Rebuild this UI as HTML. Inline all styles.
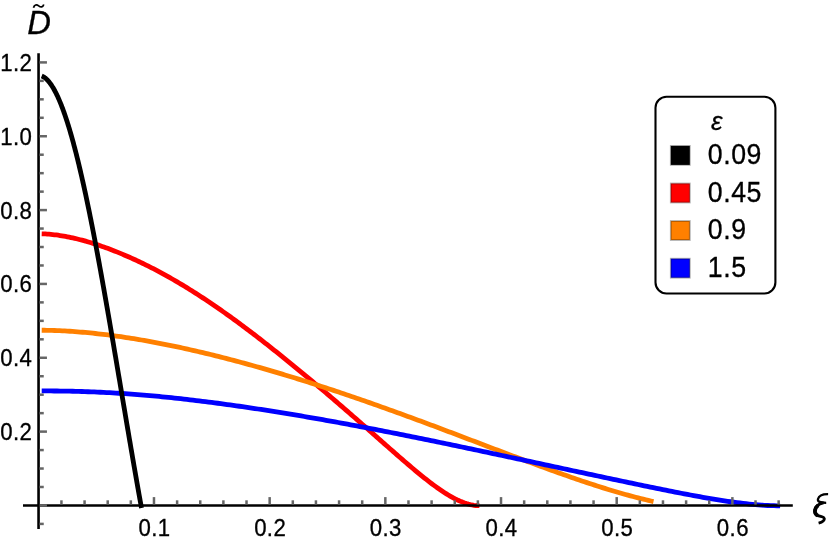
<!DOCTYPE html>
<html>
<head>
<meta charset="utf-8">
<title>Plot</title>
<style>
html,body{margin:0;padding:0;background:#ffffff;}
body{width:830px;height:547px;overflow:hidden;font-family:"Liberation Sans",sans-serif;}
svg{display:block;will-change:transform;}
svg text{font-family:"Liberation Sans",sans-serif;fill:#000000;stroke:#000000;stroke-width:0.3px;}
</style>
</head>
<body>
<svg width="830" height="547" viewBox="0 0 830 547">
<rect x="0" y="0" width="830" height="547" fill="#ffffff"/>
<g fill="none" stroke-width="4.8" stroke-linecap="butt" stroke-linejoin="round">
<path stroke="#ff0000" d="M41.70,233.80 L43.53,233.86 L45.36,233.95 L47.19,234.06 L49.03,234.20 L50.86,234.36 L52.69,234.55 L54.52,234.76 L56.35,234.99 L58.18,235.24 L60.01,235.51 L61.85,235.80 L63.68,236.11 L65.51,236.44 L67.34,236.78 L69.17,237.15 L71.00,237.53 L72.83,237.93 L74.66,238.35 L76.50,238.78 L78.33,239.23 L80.16,239.70 L81.99,240.18 L83.82,240.67 L85.65,241.18 L87.48,241.71 L89.32,242.25 L91.15,242.80 L92.98,243.37 L94.81,243.95 L96.64,244.54 L98.47,245.15 L100.30,245.77 L102.14,246.40 L103.97,247.04 L105.80,247.70 L107.63,248.37 L109.46,249.05 L111.29,249.74 L113.12,250.45 L114.96,251.17 L116.79,251.89 L118.62,252.63 L120.45,253.38 L122.28,254.14 L124.11,254.92 L125.94,255.70 L127.77,256.50 L129.61,257.30 L131.44,258.12 L133.27,258.95 L135.10,259.79 L136.93,260.63 L138.76,261.49 L140.59,262.36 L142.43,263.24 L144.26,264.13 L146.09,265.04 L147.92,265.95 L149.75,266.87 L151.58,267.80 L153.41,268.74 L155.25,269.70 L157.08,270.66 L158.91,271.63 L160.74,272.62 L162.57,273.61 L164.40,274.61 L166.23,275.62 L168.07,276.65 L169.90,277.68 L171.73,278.72 L173.56,279.77 L175.39,280.84 L177.22,281.91 L179.05,282.99 L180.88,284.08 L182.72,285.18 L184.55,286.29 L186.38,287.41 L188.21,288.53 L190.04,289.67 L191.87,290.82 L193.70,291.97 L195.54,293.13 L197.37,294.31 L199.20,295.49 L201.03,296.68 L202.86,297.88 L204.69,299.08 L206.52,300.30 L208.36,301.52 L210.19,302.75 L212.02,304.00 L213.85,305.24 L215.68,306.50 L217.51,307.76 L219.34,309.04 L221.18,310.32 L223.01,311.60 L224.84,312.90 L226.67,314.20 L228.50,315.51 L230.33,316.82 L232.16,318.15 L233.99,319.48 L235.83,320.81 L237.66,322.16 L239.49,323.51 L241.32,324.86 L243.15,326.23 L244.98,327.60 L246.81,328.97 L248.65,330.35 L250.48,331.74 L252.31,333.13 L254.14,334.53 L255.97,335.93 L257.80,337.34 L259.63,338.76 L261.47,340.18 L263.30,341.60 L265.13,343.03 L266.96,344.47 L268.79,345.91 L270.62,347.35 L272.45,348.80 L274.29,350.26 L276.12,351.71 L277.95,353.18 L279.78,354.64 L281.61,356.11 L283.44,357.59 L285.27,359.07 L287.11,360.55 L288.94,362.04 L290.77,363.53 L292.60,365.03 L294.43,366.52 L296.26,368.03 L298.09,369.53 L299.92,371.04 L301.76,372.56 L303.59,374.07 L305.42,375.59 L307.25,377.11 L309.08,378.64 L310.91,380.17 L312.74,381.70 L314.58,383.24 L316.41,384.78 L318.24,386.32 L320.07,387.87 L321.90,389.42 L323.73,390.97 L325.56,392.52 L327.40,394.08 L329.23,395.64 L331.06,397.21 L332.89,398.77 L334.72,400.34 L336.55,401.91 L338.38,403.49 L340.22,405.07 L342.05,406.65 L343.88,408.23 L345.71,409.82 L347.54,411.41 L349.37,413.00 L351.20,414.59 L353.03,416.19 L354.87,417.79 L356.70,419.39 L358.53,420.99 L360.36,422.60 L362.19,424.20 L364.02,425.81 L365.85,427.42 L367.69,429.03 L369.52,430.65 L371.35,432.26 L373.18,433.88 L375.01,435.50 L376.84,437.11 L378.67,438.73 L380.51,440.35 L382.34,441.97 L384.17,443.58 L386.00,445.20 L387.83,446.81 L389.66,448.43 L391.49,450.04 L393.33,451.65 L395.16,453.25 L396.99,454.86 L398.82,456.46 L400.65,458.05 L402.48,459.64 L404.31,461.22 L406.14,462.80 L407.98,464.37 L409.81,465.93 L411.64,467.49 L413.47,469.03 L415.30,470.56 L417.13,472.09 L418.96,473.60 L420.80,475.09 L422.63,476.57 L424.46,478.04 L426.29,479.49 L428.12,480.92 L429.95,482.33 L431.78,483.72 L433.62,485.08 L435.45,486.43 L437.28,487.74 L439.11,489.03 L440.94,490.29 L442.77,491.52 L444.60,492.71 L446.44,493.87 L448.27,494.99 L450.10,496.08 L451.93,497.12 L453.76,498.11 L455.59,499.06 L457.42,499.96 L459.25,500.80 L461.09,501.59 L462.92,502.32 L464.75,502.99 L466.58,503.59 L468.41,504.13 L470.24,504.59 L472.07,504.98 L473.91,505.29 L475.74,505.51 L477.57,505.65 L479.40,505.70"/>
<path stroke="#ff8000" d="M41.70,330.24 L44.26,330.26 L46.82,330.30 L49.38,330.36 L51.94,330.43 L54.50,330.51 L57.06,330.60 L59.62,330.71 L62.18,330.83 L64.74,330.96 L67.30,331.11 L69.86,331.27 L72.42,331.44 L74.98,331.62 L77.54,331.82 L80.10,332.02 L82.66,332.24 L85.22,332.47 L87.78,332.70 L90.34,332.95 L92.90,333.22 L95.46,333.49 L98.02,333.77 L100.58,334.06 L103.14,334.36 L105.70,334.67 L108.26,334.99 L110.82,335.33 L113.38,335.67 L115.94,336.02 L118.49,336.38 L121.05,336.74 L123.61,337.12 L126.17,337.51 L128.73,337.90 L131.29,338.31 L133.85,338.72 L136.41,339.14 L138.97,339.57 L141.53,340.00 L144.09,340.45 L146.65,340.90 L149.21,341.36 L151.77,341.83 L154.33,342.31 L156.89,342.79 L159.45,343.28 L162.01,343.78 L164.57,344.29 L167.13,344.80 L169.69,345.32 L172.25,345.85 L174.81,346.38 L177.37,346.92 L179.93,347.47 L182.49,348.02 L185.05,348.59 L187.61,349.15 L190.17,349.73 L192.73,350.31 L195.29,350.89 L197.85,351.49 L200.41,352.09 L202.97,352.69 L205.53,353.30 L208.09,353.92 L210.65,354.54 L213.21,355.17 L215.77,355.81 L218.33,356.45 L220.89,357.09 L223.45,357.75 L226.01,358.40 L228.57,359.07 L231.13,359.73 L233.69,360.41 L236.25,361.09 L238.81,361.77 L241.37,362.46 L243.93,363.16 L246.49,363.86 L249.05,364.56 L251.61,365.27 L254.17,365.99 L256.73,366.71 L259.29,367.43 L261.85,368.16 L264.41,368.90 L266.97,369.64 L269.53,370.38 L272.08,371.13 L274.64,371.88 L277.20,372.64 L279.76,373.40 L282.32,374.17 L284.88,374.94 L287.44,375.72 L290.00,376.50 L292.56,377.28 L295.12,378.07 L297.68,378.86 L300.24,379.66 L302.80,380.46 L305.36,381.27 L307.92,382.08 L310.48,382.89 L313.04,383.71 L315.60,384.53 L318.16,385.35 L320.72,386.18 L323.28,387.02 L325.84,387.85 L328.40,388.69 L330.96,389.54 L333.52,390.39 L336.08,391.24 L338.64,392.09 L341.20,392.95 L343.76,393.82 L346.32,394.68 L348.88,395.55 L351.44,396.42 L354.00,397.30 L356.56,398.18 L359.12,399.06 L361.68,399.95 L364.24,400.84 L366.80,401.73 L369.36,402.63 L371.92,403.53 L374.48,404.43 L377.04,405.33 L379.60,406.24 L382.16,407.15 L384.72,408.06 L387.28,408.98 L389.84,409.90 L392.40,410.82 L394.96,411.74 L397.52,412.67 L400.08,413.60 L402.64,414.53 L405.20,415.46 L407.76,416.40 L410.32,417.34 L412.88,418.28 L415.44,419.22 L418.00,420.16 L420.56,421.11 L423.12,422.06 L425.67,423.01 L428.23,423.96 L430.79,424.92 L433.35,425.87 L435.91,426.83 L438.47,427.79 L441.03,428.75 L443.59,429.71 L446.15,430.68 L448.71,431.64 L451.27,432.61 L453.83,433.57 L456.39,434.54 L458.95,435.51 L461.51,436.48 L464.07,437.45 L466.63,438.42 L469.19,439.39 L471.75,440.37 L474.31,441.34 L476.87,442.31 L479.43,443.29 L481.99,444.26 L484.55,445.23 L487.11,446.21 L489.67,447.18 L492.23,448.15 L494.79,449.12 L497.35,450.10 L499.91,451.07 L502.47,452.04 L505.03,453.01 L507.59,453.97 L510.15,454.94 L512.71,455.91 L515.27,456.87 L517.83,457.83 L520.39,458.79 L522.95,459.75 L525.51,460.71 L528.07,461.67 L530.63,462.62 L533.19,463.57 L535.75,464.52 L538.31,465.46 L540.87,466.40 L543.43,467.34 L545.99,468.27 L548.55,469.21 L551.11,470.13 L553.67,471.06 L556.23,471.98 L558.79,472.89 L561.35,473.80 L563.91,474.71 L566.47,475.61 L569.03,476.51 L571.59,477.40 L574.15,478.29 L576.71,479.17 L579.26,480.04 L581.82,480.91 L584.38,481.77 L586.94,482.62 L589.50,483.47 L592.06,484.31 L594.62,485.14 L597.18,485.97 L599.74,486.79 L602.30,487.60 L604.86,488.40 L607.42,489.19 L609.98,489.97 L612.54,490.74 L615.10,491.51 L617.66,492.26 L620.22,493.00 L622.78,493.74 L625.34,494.46 L627.90,495.17 L630.46,495.86 L633.02,496.55 L635.58,497.22 L638.14,497.89 L640.70,498.53 L643.26,499.17 L645.82,499.79 L648.38,500.39 L650.94,500.99 L653.50,501.56"/>
<path stroke="#0000ff" d="M41.70,390.92 L44.79,390.92 L47.88,390.94 L50.97,390.96 L54.06,390.98 L57.15,391.01 L60.24,391.05 L63.33,391.09 L66.42,391.15 L69.51,391.21 L72.60,391.27 L75.68,391.35 L78.77,391.43 L81.86,391.52 L84.95,391.62 L88.04,391.73 L91.13,391.85 L94.22,391.97 L97.31,392.10 L100.40,392.24 L103.49,392.39 L106.58,392.55 L109.67,392.72 L112.76,392.89 L115.85,393.08 L118.94,393.27 L122.03,393.47 L125.12,393.68 L128.21,393.89 L131.30,394.12 L134.39,394.35 L137.48,394.59 L140.57,394.84 L143.65,395.09 L146.74,395.35 L149.83,395.62 L152.92,395.90 L156.01,396.19 L159.10,396.48 L162.19,396.78 L165.28,397.09 L168.37,397.40 L171.46,397.72 L174.55,398.05 L177.64,398.38 L180.73,398.72 L183.82,399.06 L186.91,399.42 L190.00,399.77 L193.09,400.14 L196.18,400.51 L199.27,400.88 L202.36,401.27 L205.45,401.65 L208.54,402.04 L211.62,402.44 L214.71,402.85 L217.80,403.25 L220.89,403.67 L223.98,404.09 L227.07,404.51 L230.16,404.94 L233.25,405.37 L236.34,405.81 L239.43,406.25 L242.52,406.70 L245.61,407.15 L248.70,407.61 L251.79,408.07 L254.88,408.53 L257.97,409.00 L261.06,409.47 L264.15,409.95 L267.24,410.43 L270.33,410.92 L273.42,411.41 L276.51,411.90 L279.59,412.40 L282.68,412.90 L285.77,413.40 L288.86,413.91 L291.95,414.42 L295.04,414.94 L298.13,415.45 L301.22,415.98 L304.31,416.50 L307.40,417.03 L310.49,417.56 L313.58,418.10 L316.67,418.64 L319.76,419.18 L322.85,419.73 L325.94,420.28 L329.03,420.83 L332.12,421.39 L335.21,421.94 L338.30,422.51 L341.39,423.07 L344.47,423.64 L347.56,424.21 L350.65,424.78 L353.74,425.36 L356.83,425.94 L359.92,426.52 L363.01,427.10 L366.10,427.69 L369.19,428.28 L372.28,428.87 L375.37,429.47 L378.46,430.07 L381.55,430.67 L384.64,431.27 L387.73,431.87 L390.82,432.48 L393.91,433.09 L397.00,433.70 L400.09,434.32 L403.18,434.93 L406.27,435.55 L409.36,436.17 L412.44,436.80 L415.53,437.42 L418.62,438.05 L421.71,438.68 L424.80,439.31 L427.89,439.94 L430.98,440.57 L434.07,441.21 L437.16,441.85 L440.25,442.48 L443.34,443.12 L446.43,443.77 L449.52,444.41 L452.61,445.05 L455.70,445.70 L458.79,446.35 L461.88,446.99 L464.97,447.64 L468.06,448.29 L471.15,448.95 L474.24,449.60 L477.33,450.25 L480.41,450.91 L483.50,451.56 L486.59,452.22 L489.68,452.88 L492.77,453.53 L495.86,454.19 L498.95,454.85 L502.04,455.51 L505.13,456.17 L508.22,456.83 L511.31,457.49 L514.40,458.15 L517.49,458.81 L520.58,459.47 L523.67,460.14 L526.76,460.80 L529.85,461.46 L532.94,462.12 L536.03,462.79 L539.12,463.45 L542.21,464.11 L545.29,464.78 L548.38,465.44 L551.47,466.10 L554.56,466.77 L557.65,467.43 L560.74,468.09 L563.83,468.75 L566.92,469.42 L570.01,470.08 L573.10,470.74 L576.19,471.40 L579.28,472.06 L582.37,472.72 L585.46,473.39 L588.55,474.05 L591.64,474.70 L594.73,475.36 L597.82,476.02 L600.91,476.68 L604.00,477.34 L607.09,477.99 L610.18,478.65 L613.26,479.30 L616.35,479.96 L619.44,480.61 L622.53,481.26 L625.62,481.91 L628.71,482.56 L631.80,483.21 L634.89,483.85 L637.98,484.50 L641.07,485.14 L644.16,485.78 L647.25,486.42 L650.34,487.06 L653.43,487.69 L656.52,488.32 L659.61,488.95 L662.70,489.57 L665.79,490.20 L668.88,490.81 L671.97,491.43 L675.06,492.04 L678.15,492.64 L681.23,493.24 L684.32,493.84 L687.41,494.43 L690.50,495.01 L693.59,495.58 L696.68,496.15 L699.77,496.71 L702.86,497.27 L705.95,497.81 L709.04,498.34 L712.13,498.87 L715.22,499.38 L718.31,499.88 L721.40,500.37 L724.49,500.85 L727.58,501.31 L730.67,501.75 L733.76,502.18 L736.85,502.60 L739.94,502.99 L743.03,503.36 L746.12,503.72 L749.20,504.05 L752.29,504.36 L755.38,504.64 L758.47,504.89 L761.56,505.12 L764.65,505.32 L767.74,505.49 L770.83,505.62 L773.92,505.72 L777.01,505.78 L780.10,505.80"/>
<path stroke="#000000" d="M41.70,75.96 L42.12,76.13 L42.54,76.32 L42.95,76.54 L43.37,76.77 L43.79,77.02 L44.21,77.30 L44.62,77.59 L45.04,77.90 L45.46,78.24 L45.88,78.59 L46.29,78.96 L46.71,79.35 L47.13,79.77 L47.55,80.20 L47.96,80.65 L48.38,81.12 L48.80,81.61 L49.22,82.12 L49.63,82.65 L50.05,83.20 L50.47,83.77 L50.89,84.35 L51.30,84.96 L51.72,85.59 L52.14,86.23 L52.56,86.90 L52.97,87.58 L53.39,88.29 L53.81,89.01 L54.23,89.75 L54.64,90.51 L55.06,91.29 L55.48,92.09 L55.90,92.90 L56.32,93.74 L56.73,94.59 L57.15,95.46 L57.57,96.35 L57.99,97.26 L58.40,98.19 L58.82,99.14 L59.24,100.10 L59.66,101.08 L60.07,102.09 L60.49,103.10 L60.91,104.14 L61.33,105.20 L61.74,106.27 L62.16,107.36 L62.58,108.47 L63.00,109.59 L63.41,110.74 L63.83,111.90 L64.25,113.07 L64.67,114.27 L65.08,115.48 L65.50,116.71 L65.92,117.96 L66.34,119.22 L66.75,120.50 L67.17,121.80 L67.59,123.11 L68.01,124.44 L68.42,125.79 L68.84,127.16 L69.26,128.54 L69.68,129.93 L70.09,131.34 L70.51,132.77 L70.93,134.22 L71.35,135.68 L71.77,137.15 L72.18,138.65 L72.60,140.15 L73.02,141.68 L73.44,143.22 L73.85,144.77 L74.27,146.34 L74.69,147.92 L75.11,149.52 L75.52,151.14 L75.94,152.76 L76.36,154.41 L76.78,156.07 L77.19,157.74 L77.61,159.43 L78.03,161.13 L78.45,162.84 L78.86,164.57 L79.28,166.32 L79.70,168.07 L80.12,169.84 L80.53,171.63 L80.95,173.43 L81.37,175.24 L81.79,177.06 L82.20,178.90 L82.62,180.75 L83.04,182.62 L83.46,184.49 L83.87,186.38 L84.29,188.28 L84.71,190.20 L85.13,192.12 L85.55,194.06 L85.96,196.01 L86.38,197.98 L86.80,199.95 L87.22,201.94 L87.63,203.94 L88.05,205.95 L88.47,207.97 L88.89,210.00 L89.30,212.04 L89.72,214.10 L90.14,216.16 L90.56,218.24 L90.97,220.32 L91.39,222.42 L91.81,224.53 L92.23,226.64 L92.64,228.77 L93.06,230.91 L93.48,233.05 L93.90,235.21 L94.31,237.38 L94.73,239.55 L95.15,241.74 L95.57,243.93 L95.98,246.13 L96.40,248.34 L96.82,250.57 L97.24,252.79 L97.65,255.03 L98.07,257.28 L98.49,259.53 L98.91,261.79 L99.33,264.06 L99.74,266.34 L100.16,268.63 L100.58,270.92 L101.00,273.22 L101.41,275.52 L101.83,277.84 L102.25,280.16 L102.67,282.49 L103.08,284.82 L103.50,287.16 L103.92,289.51 L104.34,291.86 L104.75,294.22 L105.17,296.59 L105.59,298.96 L106.01,301.34 L106.42,303.72 L106.84,306.11 L107.26,308.50 L107.68,310.90 L108.09,313.30 L108.51,315.71 L108.93,318.12 L109.35,320.53 L109.76,322.95 L110.18,325.38 L110.60,327.81 L111.02,330.24 L111.43,332.68 L111.85,335.12 L112.27,337.56 L112.69,340.01 L113.11,342.46 L113.52,344.91 L113.94,347.36 L114.36,349.82 L114.78,352.28 L115.19,354.75 L115.61,357.21 L116.03,359.68 L116.45,362.15 L116.86,364.62 L117.28,367.09 L117.70,369.57 L118.12,372.04 L118.53,374.52 L118.95,376.99 L119.37,379.47 L119.79,381.95 L120.20,384.43 L120.62,386.91 L121.04,389.39 L121.46,391.87 L121.87,394.35 L122.29,396.83 L122.71,399.31 L123.13,401.79 L123.54,404.27 L123.96,406.74 L124.38,409.22 L124.80,411.70 L125.21,414.17 L125.63,416.64 L126.05,419.11 L126.47,421.58 L126.88,424.05 L127.30,426.52 L127.72,428.98 L128.14,431.44 L128.56,433.90 L128.97,436.35 L129.39,438.81 L129.81,441.26 L130.23,443.70 L130.64,446.15 L131.06,448.59 L131.48,451.02 L131.90,453.46 L132.31,455.88 L132.73,458.31 L133.15,460.73 L133.57,463.15 L133.98,465.56 L134.40,467.96 L134.82,470.37 L135.24,472.76 L135.65,475.16 L136.07,477.54 L136.49,479.92 L136.91,482.30 L137.32,484.67 L137.74,487.03 L138.16,489.39 L138.58,491.75 L138.99,494.09 L139.41,496.43 L139.83,498.76 L140.25,501.09 L140.66,503.41 L141.08,505.72 L141.50,508.03"/>
</g>
<g stroke="#000000" stroke-width="2.6" stroke-linecap="butt">
<line x1="23" y1="505.5" x2="792.8" y2="505.5"/>
<line x1="38.55" y1="53.2" x2="38.55" y2="529"/>
</g>
<g stroke="#666666" stroke-width="2.5" stroke-linecap="butt">
<line x1="61.44" y1="504.50" x2="61.44" y2="500.30"/>
<line x1="84.57" y1="504.50" x2="84.57" y2="500.30"/>
<line x1="107.71" y1="504.50" x2="107.71" y2="500.30"/>
<line x1="130.84" y1="504.50" x2="130.84" y2="500.30"/>
<line x1="153.98" y1="504.50" x2="153.98" y2="497.10"/>
<line x1="177.12" y1="504.50" x2="177.12" y2="500.30"/>
<line x1="200.25" y1="504.50" x2="200.25" y2="500.30"/>
<line x1="223.39" y1="504.50" x2="223.39" y2="500.30"/>
<line x1="246.52" y1="504.50" x2="246.52" y2="500.30"/>
<line x1="269.66" y1="504.50" x2="269.66" y2="497.10"/>
<line x1="292.80" y1="504.50" x2="292.80" y2="500.30"/>
<line x1="315.93" y1="504.50" x2="315.93" y2="500.30"/>
<line x1="339.07" y1="504.50" x2="339.07" y2="500.30"/>
<line x1="362.20" y1="504.50" x2="362.20" y2="500.30"/>
<line x1="385.34" y1="504.50" x2="385.34" y2="497.10"/>
<line x1="408.48" y1="504.50" x2="408.48" y2="500.30"/>
<line x1="431.61" y1="504.50" x2="431.61" y2="500.30"/>
<line x1="454.75" y1="504.50" x2="454.75" y2="500.30"/>
<line x1="477.88" y1="504.50" x2="477.88" y2="500.30"/>
<line x1="501.02" y1="504.50" x2="501.02" y2="497.10"/>
<line x1="524.16" y1="504.50" x2="524.16" y2="500.30"/>
<line x1="547.29" y1="504.50" x2="547.29" y2="500.30"/>
<line x1="570.43" y1="504.50" x2="570.43" y2="500.30"/>
<line x1="593.56" y1="504.50" x2="593.56" y2="500.30"/>
<line x1="616.70" y1="504.50" x2="616.70" y2="497.10"/>
<line x1="639.84" y1="504.50" x2="639.84" y2="500.30"/>
<line x1="662.97" y1="504.50" x2="662.97" y2="500.30"/>
<line x1="686.11" y1="504.50" x2="686.11" y2="500.30"/>
<line x1="709.24" y1="504.50" x2="709.24" y2="500.30"/>
<line x1="732.38" y1="504.50" x2="732.38" y2="497.10"/>
<line x1="755.52" y1="504.50" x2="755.52" y2="500.30"/>
<line x1="778.65" y1="504.50" x2="778.65" y2="500.30"/>
<line x1="39.55" y1="523.91" x2="43.75" y2="523.91"/>
<line x1="39.55" y1="505.45" x2="46.95" y2="505.45"/>
<line x1="39.55" y1="486.99" x2="43.75" y2="486.99"/>
<line x1="39.55" y1="468.53" x2="43.75" y2="468.53"/>
<line x1="39.55" y1="450.07" x2="43.75" y2="450.07"/>
<line x1="39.55" y1="431.61" x2="46.95" y2="431.61"/>
<line x1="39.55" y1="413.15" x2="43.75" y2="413.15"/>
<line x1="39.55" y1="394.69" x2="43.75" y2="394.69"/>
<line x1="39.55" y1="376.23" x2="43.75" y2="376.23"/>
<line x1="39.55" y1="357.77" x2="46.95" y2="357.77"/>
<line x1="39.55" y1="339.31" x2="43.75" y2="339.31"/>
<line x1="39.55" y1="320.85" x2="43.75" y2="320.85"/>
<line x1="39.55" y1="302.39" x2="43.75" y2="302.39"/>
<line x1="39.55" y1="283.93" x2="46.95" y2="283.93"/>
<line x1="39.55" y1="265.47" x2="43.75" y2="265.47"/>
<line x1="39.55" y1="247.01" x2="43.75" y2="247.01"/>
<line x1="39.55" y1="228.55" x2="43.75" y2="228.55"/>
<line x1="39.55" y1="210.09" x2="46.95" y2="210.09"/>
<line x1="39.55" y1="191.63" x2="43.75" y2="191.63"/>
<line x1="39.55" y1="173.17" x2="43.75" y2="173.17"/>
<line x1="39.55" y1="154.71" x2="43.75" y2="154.71"/>
<line x1="39.55" y1="136.25" x2="46.95" y2="136.25"/>
<line x1="39.55" y1="117.79" x2="43.75" y2="117.79"/>
<line x1="39.55" y1="99.33" x2="43.75" y2="99.33"/>
<line x1="39.55" y1="80.87" x2="43.75" y2="80.87"/>
<line x1="39.55" y1="62.41" x2="46.95" y2="62.41"/>
</g>
<g font-size="22.5">
<text transform="translate(154.48 535.80) scale(1 1.04)" font-size="22.2" letter-spacing="0.4" text-anchor="middle">0.1</text>
<text transform="translate(270.16 535.80) scale(1 1.04)" font-size="22.2" letter-spacing="0.4" text-anchor="middle">0.2</text>
<text transform="translate(385.84 535.80) scale(1 1.04)" font-size="22.2" letter-spacing="0.4" text-anchor="middle">0.3</text>
<text transform="translate(501.52 535.80) scale(1 1.04)" font-size="22.2" letter-spacing="0.4" text-anchor="middle">0.4</text>
<text transform="translate(617.20 535.80) scale(1 1.04)" font-size="22.2" letter-spacing="0.4" text-anchor="middle">0.5</text>
<text transform="translate(732.88 535.80) scale(1 1.04)" font-size="22.2" letter-spacing="0.4" text-anchor="middle">0.6</text>
<text transform="translate(32.30 440.22) scale(1 1.04)" font-size="22.2" letter-spacing="0.4" text-anchor="end">0.2</text>
<text transform="translate(32.30 366.34) scale(1 1.04)" font-size="22.2" letter-spacing="0.4" text-anchor="end">0.4</text>
<text transform="translate(32.30 292.46) scale(1 1.04)" font-size="22.2" letter-spacing="0.4" text-anchor="end">0.6</text>
<text transform="translate(32.30 218.58) scale(1 1.04)" font-size="22.2" letter-spacing="0.4" text-anchor="end">0.8</text>
<text transform="translate(32.30 144.70) scale(1 1.04)" font-size="22.2" letter-spacing="0.4" text-anchor="end">1.0</text>
<text transform="translate(32.30 70.82) scale(1 1.04)" font-size="22.2" letter-spacing="0.4" text-anchor="end">1.2</text>
</g>
<text x="27.3" y="33.8" font-size="32.8" font-style="italic">D</text>
<path d="M33.5,7.7 C34.4,4.5 36.6,4.3 38.7,5.9 C40.8,7.5 42.8,7.4 43.8,4.5" fill="none" stroke="#000000" stroke-width="1.8"/>
<g fill="none" stroke="#000000" stroke-linecap="butt" stroke-linejoin="round"><title>ξ</title>
<path stroke-width="2.3" d="M828.1,494.2 C823.0,494.1 818.9,495.8 818.0,499.0 C817.3,501.7 820.2,502.8 826.2,502.8"/>
<path stroke-width="2.9" d="M823.6,502.8 C818.0,503.6 814.4,507.6 814.6,511.8 C814.8,515.2 818.0,515.9 821.6,516.6 C824.6,517.2 825.0,519.4 823.2,521.0 C822.0,522.1 820.6,522.6 818.6,523.1"/>
<path stroke-width="3.7" d="M818.2,505.2 C815.6,507.2 814.9,510.0 815.1,512.0 C815.3,513.9 816.3,514.9 817.8,515.5"/>
</g>
<rect x="655.5" y="96.7" width="119.9" height="196.8" rx="11" ry="11" fill="#ffffff" stroke="#000000" stroke-width="2.1"/>
<text x="711" y="129.8" font-size="26" font-style="italic">ε</text>
<rect x="670.8" y="145.90" width="19.0" height="19.0" fill="#000000" stroke="#000000" stroke-opacity="0.3" stroke-width="1.8"/>
<text transform="translate(707.70 164.00) scale(1 1.1)" font-size="26.7" letter-spacing="0.6" text-anchor="start">0.09</text>
<rect x="670.8" y="183.50" width="19.0" height="19.0" fill="#ff0000" stroke="#000000" stroke-opacity="0.3" stroke-width="1.8"/>
<text transform="translate(707.70 201.60) scale(1 1.1)" font-size="26.7" letter-spacing="0.6" text-anchor="start">0.45</text>
<rect x="670.8" y="221.00" width="19.0" height="19.0" fill="#ff8000" stroke="#000000" stroke-opacity="0.3" stroke-width="1.8"/>
<text transform="translate(707.70 239.10) scale(1 1.1)" font-size="26.7" letter-spacing="0.6" text-anchor="start">0.9</text>
<rect x="670.8" y="258.70" width="19.0" height="19.0" fill="#0000ff" stroke="#000000" stroke-opacity="0.3" stroke-width="1.8"/>
<text transform="translate(707.70 276.80) scale(1 1.1)" font-size="26.7" letter-spacing="0.6" text-anchor="start">1.5</text>
</svg>
</body>
</html>
